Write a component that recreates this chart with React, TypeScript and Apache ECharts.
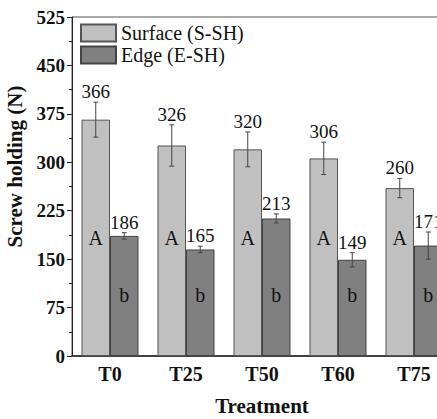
import React, { useEffect, useRef } from "react";
import * as echarts from "echarts";

const categories = ["T0", "T25", "T50", "T60", "T75"];
const surfaceValues = [366, 326, 320, 306, 260];
const surfaceErrors = [27, 32, 27, 25, 15];
const edgeValues = [186, 165, 213, 149, 171];
const edgeErrors = [5, 5, 7, 11, 21];
const surfaceLetters = ["A", "A", "A", "A", "A"];
const edgeLetters = ["b", "b", "b", "b", "b"];
const yTicks = [0, 75, 150, 225, 300, 375, 450, 525];

const FONT = "'Liberation Serif', 'Times New Roman', serif";
const LETTER_Y_SURFACE = 183;
const LETTER_Y_EDGE = 95;

export default function App() {
  const ref = useRef<HTMLDivElement>(null);
  useEffect(() => {
    if (!ref.current) return;
    const chart = echarts.init(ref.current, null, { renderer: "svg" });

    const makeErr = (values: number[], errs: number[], letters: string[], side: number, letterY: number) =>
      (params: any, api: any) => {
        const i = api.value(0);
        const v = values[i];
        const e = errs[i];
        const band = api.size([1, 0])[0];
        const bw = (band * 0.75) / 2;
        const c = api.coord([i, v]);
        const x = c[0] + side * bw / 2;
        const top = api.coord([i, v + e])[1];
        const bot = api.coord([i, v - e])[1];
        const ly = api.coord([i, letterY])[1];
        const cap = 2.5;
        const st = { stroke: "#444", lineWidth: 1 };
        return {
          type: "group",
          children: [
            { type: "line", shape: { x1: x, y1: top, x2: x, y2: bot }, style: st },
            { type: "line", shape: { x1: x - cap, y1: top, x2: x + cap, y2: top }, style: st },
            { type: "line", shape: { x1: x - cap, y1: bot, x2: x + cap, y2: bot }, style: st },
            {
              type: "text",
              x: x,
              y: top - 1,
              style: { text: String(v), fontFamily: FONT, fontSize: 19, fill: "#111", align: "center", verticalAlign: "bottom" },
            },
            {
              type: "text",
              x: x,
              y: ly,
              style: { text: letters[i], fontFamily: FONT, fontSize: 20, fill: "#111", align: "center", verticalAlign: "middle" },
            },
          ],
        };
      };

    chart.setOption({
      animation: false,
      backgroundColor: "#fff",
      grid: { left: 72, top: 17, width: 380, height: 339, outerBoundsMode: "none", containLabel: false, show: true, borderColor: "#555", borderWidth: 1, backgroundColor: "transparent" },
      legend: {
        left: 80,
        top: 23,
        orient: "vertical",
        itemWidth: 35,
        itemHeight: 17,
        itemGap: 2,
        icon: "rect",
        textStyle: { fontFamily: FONT, fontSize: 20, color: "#111", padding: [0, 0, 0, 0] },
        data: ["Surface (S-SH)", "Edge (E-SH)"],
        padding: 0,
      },
      xAxis: {
        type: "category",
        data: categories,
        axisLine: { lineStyle: { color: "#222", width: 1.5 } },
        axisTick: { alignWithLabel: true, length: 5, lineStyle: { color: "#222" } },
        axisLabel: { fontFamily: FONT, fontSize: 20, fontWeight: "bold", color: "#111", margin: 8 },
        name: "Treatment",
        nameLocation: "middle",
        nameGap: 39,
        nameTextStyle: { fontFamily: FONT, fontSize: 21, fontWeight: "bold", color: "#111" },
      },
      yAxis: {
        type: "value",
        min: yTicks[0],
        max: yTicks[yTicks.length - 1],
        interval: 75,
        splitLine: { show: false },
        axisLine: { show: true, lineStyle: { color: "#222", width: 1 } },
        axisTick: { show: true, length: 5, lineStyle: { color: "#222" } },
        minorTick: { show: true, splitNumber: 2, length: 3, lineStyle: { color: "#222" } },
        axisLabel: { fontFamily: FONT, fontSize: 19, fontWeight: "bold", color: "#111", margin: 7 },
        name: "Screw holding (N)",
        nameLocation: "middle",
        nameGap: 41,
        nameTextStyle: { fontFamily: FONT, fontSize: 21, fontWeight: "bold", color: "#111", padding: [0, 0, 0, 40] },
      },
      series: [
        {
          name: "Surface (S-SH)",
          type: "bar",
          data: surfaceValues,
          barGap: "0%",
          barCategoryGap: "25%",
          itemStyle: { color: "#c0c0c0", borderColor: "#555", borderWidth: 1 },
        },
        {
          name: "Edge (E-SH)",
          type: "bar",
          data: edgeValues,
          barGap: "0%",
          barCategoryGap: "25%",
          itemStyle: { color: "#808080", borderColor: "#444", borderWidth: 1 },
        },
        {
          type: "custom",
          data: categories.map((_, i) => [i]),
          renderItem: makeErr(surfaceValues, surfaceErrors, surfaceLetters, -1, LETTER_Y_SURFACE),
          z: 10,
          silent: true,
        },
        {
          type: "custom",
          data: categories.map((_, i) => [i]),
          renderItem: makeErr(edgeValues, edgeErrors, edgeLetters, 1, LETTER_Y_EDGE),
          z: 10,
          silent: true,
        },
      ],
    });
    return () => chart.dispose();
  }, []);
  return <div ref={ref} style={{ position: "fixed", left: 0, top: 0, width: 437, height: 419 }} />;
}
